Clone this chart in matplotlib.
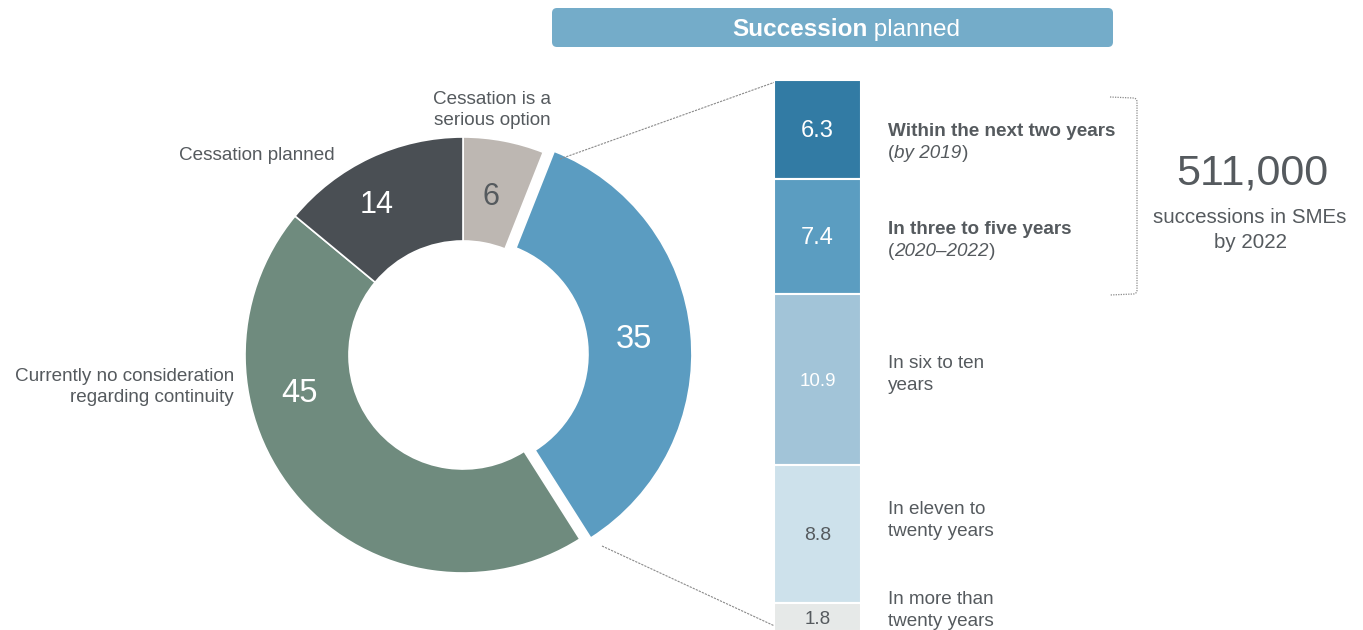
import matplotlib
matplotlib.use("Agg")
import matplotlib.pyplot as plt
from matplotlib.patches import FancyBboxPatch, PathPatch
from matplotlib.path import Path
import numpy as np

plt.rcParams['font.family'] = ['Liberation Sans', 'DejaVu Sans']

# ---------------- data ----------------
pie_labels = ["Cessation is a\nserious option", "Succession planned",
              "Currently no consideration\nregarding continuity", "Cessation planned"]
pie_values = [6, 35, 45, 14]
pie_colors = ["#BDB7B2", "#5B9CC1", "#6F8B7E", "#4A4F54"]
pie_text_colors = ["#555A5E", "white", "white", "white"]

bar_values = [6.3, 7.4, 10.9, 8.8, 1.8]
bar_colors = ["#327BA4", "#5B9DC1", "#A2C4D8", "#CDE1EB", "#E6E9E8"]
bar_text_colors = ["white", "white", "white", "#555A5E", "#555A5E"]
# each label: two lines, each a list of (text, style, weight) pieces
bar_label_lines = [
    ([("Within the next two years", "normal", "bold")],
     [("(", "normal", "normal"), ("by 2019", "italic", "normal"), (")", "normal", "normal")]),
    ([("In three to five years", "normal", "bold")],
     [("(", "normal", "normal"), ("2020–2022", "italic", "normal"), (")", "normal", "normal")]),
    ([("In six to ten", "normal", "normal")], [("years", "normal", "normal")]),
    ([("In eleven to", "normal", "normal")], [("twenty years", "normal", "normal")]),
    ([("In more than", "normal", "normal")], [("twenty years", "normal", "normal")]),
]
title_bold = "Succession"
title_rest = " planned"
total_text = "511,000"
total_sub = "successions in SMEs\nby 2022"

TXT = "#555A5E"
W, H = 1363, 630

fig = plt.figure(figsize=(W / 100, H / 100), dpi=100)
ax = fig.add_axes([0, 0, 1, 1])
renderer = fig.canvas.get_renderer()


def Y(py):
    return H - py


def rich(x, y, parts, size, color, ha="left"):
    texts = []
    widths = []
    for s, style, weight in parts:
        t = ax.text(0, y, s, ha="left", va="center", color=color, fontsize=size,
                    fontstyle=style, fontweight=weight)
        w = t.get_window_extent(renderer).width
        texts.append(t)
        widths.append(w)
    total_w = sum(widths)
    start = x - total_w / 2 if ha == "center" else x
    for t, w in zip(texts, widths):
        t.set_x(start)
        start += w


# ---------------- donut ----------------
cx, cy, R = 463, Y(355), 218
explode = [0, 11, 0, 0]
ax.pie(pie_values, colors=pie_colors, startangle=90, counterclock=False,
       explode=explode, radius=R, center=(cx, cy),
       wedgeprops=dict(width=R * 0.477, edgecolor="white", linewidth=1.2),
       frame=True)
ax.set_xlim(0, W)
ax.set_ylim(0, H)
ax.set_aspect("auto")
ax.axis("off")

value_pos = [(491, 197), (634, 339), (299, 394), (377, 205)]
value_sizes = [22, 23.5, 23.5, 22]
for v, (px, py), c, s in zip(pie_values, value_pos, pie_text_colors, value_sizes):
    ax.text(px, Y(py), str(v), ha="center", va="center", color=c, fontsize=s)

ax.text(492, Y(110), pie_labels[0], ha="center", va="center", color=TXT,
        fontsize=13.6, linespacing=1.3)
ax.text(257, Y(155), pie_labels[3], ha="center", va="center", color=TXT, fontsize=13.6)
ax.text(234, Y(387), pie_labels[2], ha="right", va="center", color=TXT,
        fontsize=13.6, linespacing=1.35)

# connector lines
ax.plot([560, 778], [Y(159), Y(81)], color="#8A8A8A", lw=0.8, ls=(0, (2, 1)))
ax.plot([602, 779], [Y(546), Y(628)], color="#8A8A8A", lw=0.8, ls=(0, (2, 1)))

# ---------------- stacked bar ----------------
total = sum(bar_values)
top_px, bot_px = 80, 631
bax = fig.add_axes([774 / W, (H - bot_px) / H, 87 / W, (bot_px - top_px) / H])
bax.set_xlim(0, 1)
bax.set_ylim(total, 0)
bax.axis("off")
bottoms = np.concatenate([[0], np.cumsum(bar_values)[:-1]])
bax.bar([0.5] * len(bar_values), bar_values, bottom=bottoms, width=1.0,
        color=bar_colors, edgecolor="white", linewidth=1.5)
bar_val_sizes = [17, 17, 13.5, 14, 13.5]
for v, b, c, s in zip(bar_values, bottoms, bar_text_colors, bar_val_sizes):
    bax.text(0.5, b + v / 2 + (0.15 if v < 2 else 0.08), f"{v}", ha="center", va="center",
             color=c, fontsize=s)

label_px = [(132, 154), (229, 251), (363, 385), (509, 531), (600, 622)]
for (l1, l2), (y1, y2) in zip(bar_label_lines, label_px):
    rich(888, Y(y1), l1, 13.6, TXT)
    rich(888, Y(y2), l2, 13.6, TXT)

# ---------------- title box ----------------
box = FancyBboxPatch((552, Y(47)), 561, 39, boxstyle="round,pad=0,rounding_size=5",
                     facecolor="#74ACC9", edgecolor="none")
ax.add_patch(box)
rich(846, Y(30), [(title_bold, "normal", "bold"), (title_rest, "normal", "normal")],
     17.5, "white", ha="center")

# ---------------- bracket ----------------
x0, x1, yt, yb, r = 1110, 1137, Y(97), Y(295), 4
verts = [(x0, yt), (x1 - r, yt - 1), (x1, yt - 1), (x1, yt - 1 - r),
         (x1, yb + 1 + r), (x1, yb + 1), (x1 - r, yb + 1), (x0, yb)]
codes = [Path.MOVETO, Path.LINETO, Path.CURVE3, Path.CURVE3,
         Path.LINETO, Path.CURVE3, Path.CURVE3, Path.LINETO]
ax.add_patch(PathPatch(Path(verts, codes), facecolor="none", edgecolor="#8A8A8A",
                       lw=0.9, ls=(0, (1, 1))))

ax.text(1252, Y(173), total_text, ha="center", va="center", color=TXT, fontsize=31)
ax.text(1250, Y(230), total_sub, ha="center", va="center", color=TXT, fontsize=14.8,
        linespacing=1.38)

fig.savefig("out.png", dpi=100)
